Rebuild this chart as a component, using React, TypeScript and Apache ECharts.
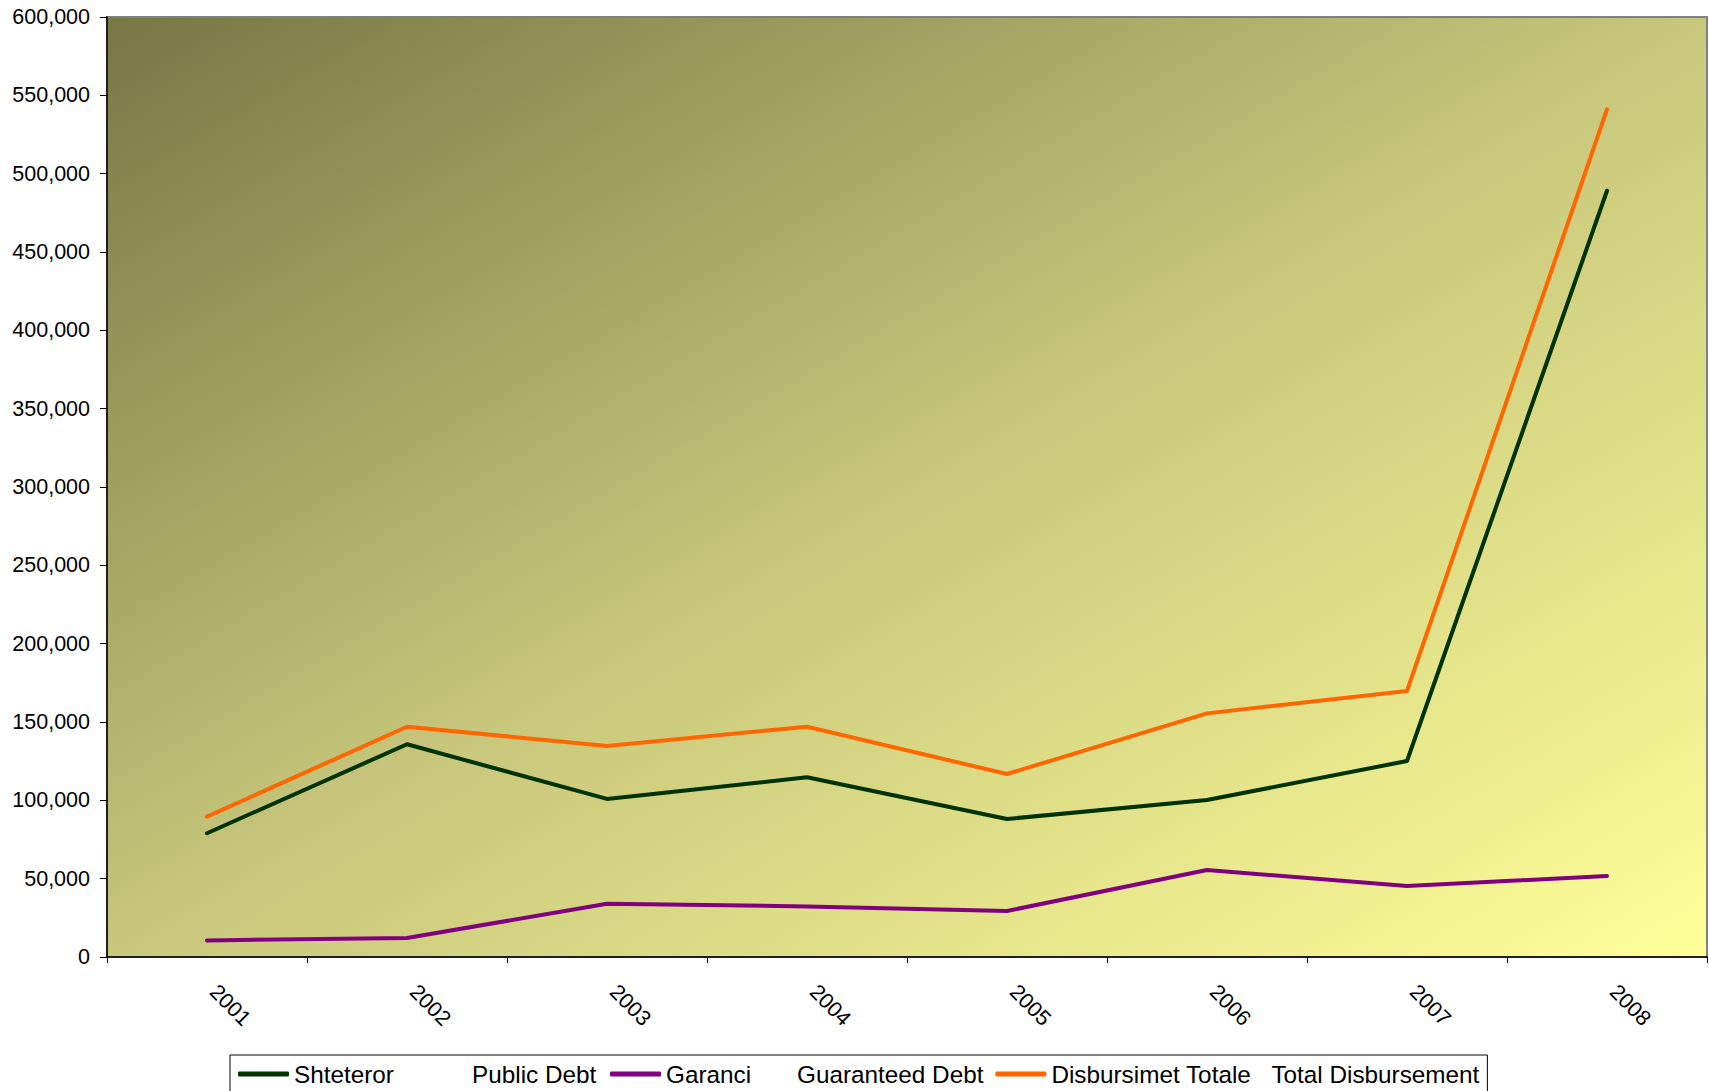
import React, { useEffect, useRef } from "react";
import * as echarts from "echarts";

const years = ["2001", "2002", "2003", "2004", "2005", "2006", "2007", "2008"];
const publicDebt = [79000, 135800, 100900, 114700, 88100, 100200, 125100, 489100];
const guaranteedDebt = [10600, 12100, 34000, 32300, 29400, 55500, 45300, 51700];
const totalDisbursement = [89600, 147000, 134700, 147000, 116800, 155500, 169800, 541100];

const seriesNames = ["Shteteror", "Garanci", "Disbursimet Totale"];
const seriesEnglish = ["Public Debt", "Guaranteed Debt", "Total Disbursement"];
const seriesColors = ["#013301", "#800080", "#FF6600"];

export default function App() {
  const ref = useRef<HTMLDivElement>(null);
  useEffect(() => {
    document.body.style.margin = "0";
    if (!ref.current) return;
    const chart = echarts.init(ref.current, undefined, { renderer: "svg" });
    const dataSets = [publicDebt, guaranteedDebt, totalDisbursement];
    const nameWidths = [178, 131, 220];
    const engWidths = [126, 186, 0];
    const fs = 24.3;
    const rich: any = {};
    seriesNames.forEach((_, i) => {
      rich["a" + i] = { width: nameWidths[i], fontSize: fs, fontFamily: "Liberation Sans", color: "#000" };
      const b: any = { fontSize: fs, fontFamily: "Liberation Sans", color: "#000" };
      if (engWidths[i]) b.width = engWidths[i];
      rich["b" + i] = b;
    });
    chart.setOption({
      animation: false,
      backgroundColor: "#ffffff",
      grid: {
        left: 107,
        right: 2,
        top: 17,
        bottom: 134,
        show: true,
        borderColor: "#808080",
        borderWidth: 2,
        backgroundColor: new echarts.graphic.LinearGradient(0, 0, 1, 1, [
          { offset: 0, color: "#777745" },
          { offset: 0.5, color: "#c8c77c" },
          { offset: 1, color: "#ffff99" },
        ]),
      },
      legend: {
        left: 230,
        top: 1055,
        orient: "horizontal",
        padding: [4, 8, 8, 8],
        itemGap: 12,
        itemWidth: 51,
        itemHeight: 5,
        icon: "roundRect",
        borderColor: "#000",
        borderWidth: 1,
        backgroundColor: "#fff",
        data: seriesNames,
        formatter: (name: string) => {
          const i = seriesNames.indexOf(name);
          return `{a${i}|${name}}{b${i}|${seriesEnglish[i]}}`;
        },
        textStyle: { rich, fontSize: fs, fontFamily: "Liberation Sans", lineHeight: 30 },
      },
      xAxis: {
        type: "category",
        data: years,
        boundaryGap: true,
        axisLine: { show: true, lineStyle: { color: "#000", width: 1.5 } },
        axisTick: { show: true, length: 6, lineStyle: { color: "#000" } },
        axisLabel: {
          rotate: -45,
          margin: 25,
          padding: [0, 0, 0, 9],
          fontSize: 21.5,
          fontFamily: "Liberation Sans",
          color: "#000",
        },
        splitLine: { show: false },
      },
      yAxis: {
        type: "value",
        min: 0,
        max: 600000,
        interval: 50000,
        axisLine: { show: true, lineStyle: { color: "#000", width: 1.5 } },
        axisTick: { show: true, length: 7, lineStyle: { color: "#000" } },
        axisLabel: {
          margin: 17,
          fontSize: 21.5,
          fontFamily: "Liberation Sans",
          color: "#000",
          formatter: (v: number) => v.toLocaleString("en-US"),
        },
        splitLine: { show: false },
      },
      series: seriesNames.map((name, i) => ({
        name,
        type: "line",
        data: dataSets[i],
        showSymbol: false,
        symbol: "none",
        color: seriesColors[i],
        lineStyle: { color: seriesColors[i], width: 4, cap: "round", join: "round" },
      })),
    });
    return () => chart.dispose();
  }, []);
  return <div ref={ref} style={{ width: 1709, height: 1091 }} />;
}
